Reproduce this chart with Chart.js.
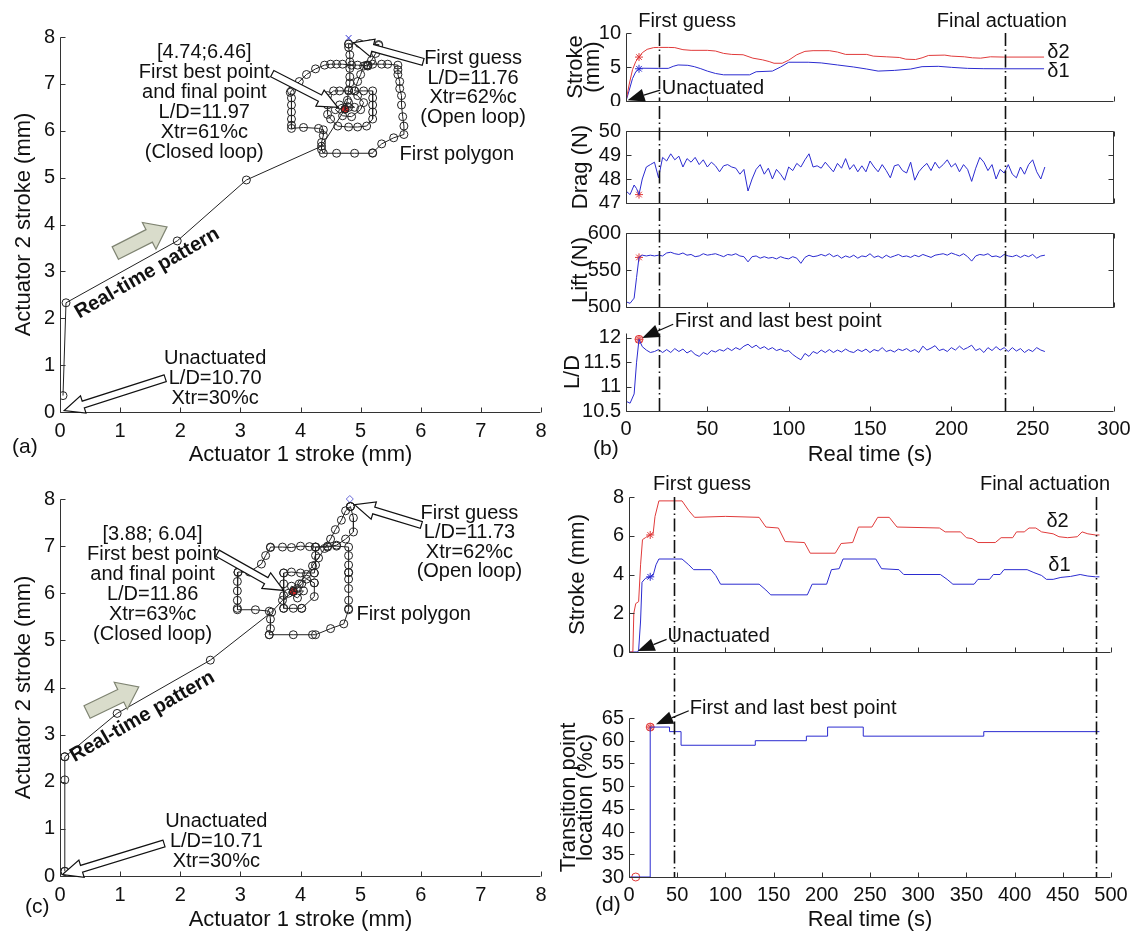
<!DOCTYPE html>
<html>
<head>
<meta charset="utf-8">
<script src="https://cdn.jsdelivr.net/npm/chart.js@4.4.1/dist/chart.umd.min.js"></script>
<style>
  body { margin: 0; background: #fff; }
  #fig { position: relative; width: 1137px; height: 933px; overflow: hidden; background: #fff; }
  canvas { position: absolute; }
</style>
</head>
<body>
<div id="fig"></div>
<script>
// ===== run 1 : actuator path (mm) =====
const pathA = [
  [0.05,0.35],[0.1,2.33],[1.95,3.65],[3.1,4.95],[4.35,5.67],[4.74,6.46],
  [4.78,6.65],[4.8,6.87],[4.82,7.02],[4.82,7.15],[4.82,7.33],[4.82,7.47],[4.82,7.62],[4.8,7.78],[4.8,7.85],[4.8,7.85],
  [4.98,7.86],[5.15,7.85],[5.3,7.84],[5.3,7.82],
  [5.25,7.65],[5.18,7.5],[5.12,7.4],[5.12,7.4],[5.12,7.38],
  [4.95,7.4],[4.85,7.4],[4.7,7.42],[4.6,7.42],[4.5,7.42],[4.4,7.4],
  [4.25,7.32],[4.1,7.2],[3.98,7.05],[3.85,6.85],[3.83,6.82],
  [3.85,6.7],[3.85,6.55],[3.85,6.4],[3.85,6.25],[3.85,6.12],[3.85,6.05],
  [4.05,6.07],[4.3,6.05],[4.38,6.02],
  [4.38,5.9],[4.35,5.75],[4.35,5.6],[4.38,5.52],
  [4.6,5.52],[4.9,5.52],[5.2,5.52],[5.2,5.53],
  [5.35,5.72],[5.55,5.85],[5.72,5.92],
  [5.72,6.1],[5.7,6.3],[5.68,6.55],[5.68,6.75],[5.65,6.9],[5.65,7.05],[5.62,7.2],[5.62,7.3],[5.62,7.4],
  [5.45,7.42],[5.35,7.42],[5.2,7.42],[5.1,7.4],[5.05,7.38],
  [5.0,7.2],[4.95,7.05],[4.9,6.85],[4.9,6.85],
  [5.05,6.85],[5.2,6.85],[5.2,6.7],[5.2,6.55],[5.2,6.4],[5.2,6.25],[5.1,6.1],[4.95,6.08],[4.8,6.08],[4.62,6.1],
  [4.5,6.25],[4.45,6.35],[4.45,6.55],[4.45,6.75],[4.55,6.85],[4.65,6.85],[4.8,6.85],
  [4.95,6.75],[5.05,6.6],[5.0,6.45],[4.85,6.3],[4.7,6.32],[4.58,6.45],[4.65,6.55],[4.8,6.6],[4.9,6.5],[4.8,6.5],[4.74,6.46]
];
const bestA = [4.74, 6.46];
const guessA = [4.8, 7.98];

// ===== run 2 : actuator path (mm) =====
const pathC = [
  [0.08,0.1],[0.08,0.1],[0.08,2.04],[0.08,2.53],[0.08,2.53],[0.95,3.45],[2.5,4.58],[3.52,5.6],[3.7,5.85],[3.88,6.04],
  [3.98,6.2],[4.1,6.4],[4.2,6.58],[4.3,6.75],[4.4,6.95],[4.5,7.15],[4.58,7.35],[4.68,7.55],[4.75,7.75],[4.83,7.84],[4.83,7.84],[4.83,7.84],
  [4.88,7.6],[4.88,7.3],[4.75,7.15],[4.6,7.02],[4.45,6.98],[4.25,6.98],[4.25,6.98],
  [4.15,6.99],[4.0,7.0],[3.85,6.97],[3.7,6.98],[3.5,6.98],[3.5,6.97],
  [3.42,6.8],[3.35,6.62],[3.15,6.45],[2.96,6.45],[2.96,6.44],
  [2.95,6.25],[2.95,6.05],[2.95,5.85],[2.95,5.68],[2.95,5.65],
  [3.25,5.65],[3.48,5.62],
  [3.5,5.45],[3.5,5.25],[3.48,5.12],[3.48,5.12],
  [3.88,5.12],[4.2,5.12],[4.25,5.12],
  [4.5,5.25],[4.72,5.35],[4.8,5.65],[4.8,5.67],
  [4.8,5.85],[4.8,6.1],[4.8,6.3],[4.8,6.44],[4.8,6.44],[4.8,6.6],[4.8,6.8],[4.8,6.98],
  [4.6,7.0],[4.45,7.0],[4.25,6.98],
  [4.25,6.8],[4.25,6.6],[4.23,6.43],[4.23,6.43],
  [4.0,6.43],[3.85,6.45],[3.72,6.43],[3.72,6.43],
  [3.72,6.2],[3.72,5.95],[3.72,5.68],[3.72,5.68],
  [3.88,5.68],[4.02,5.68],[4.02,5.68],
  [4.23,5.93],[4.23,6.22],[4.23,6.22],
  [4.1,6.3],[4.02,6.2],[3.95,6.1],[3.85,6.15],[3.8,6.0],[3.95,5.9],[4.05,6.05],[3.88,6.04]
];
const bestC = [3.88, 6.04];
const guessC = [4.82, 8.0];

// ===== run 1 : time histories [t (s), value] =====
const d2B = [[0,0],[2,2.5],[4,4.6],[6,5.8],[8,6.46],[10,7.1],[13,7.6],[17,7.85],[20,7.88],[26,7.88],[30,7.85],[35,7.55],
  [40,7.45],[50,7.45],[55,7.35],[60,7.0],[65,6.85],[72,6.8],[78,6.3],[84,6.05],[88,5.8],[91,5.55],[96,5.55],[100,6.0],
  [105,6.8],[110,7.3],[115,7.4],[125,7.4],[130,7.2],[135,6.85],[148,6.85],[152,6.6],[160,6.5],[168,6.4],[172,6.15],
  [178,6.1],[182,6.35],[186,6.7],[196,6.75],[200,6.6],[208,6.5],[213,6.35],[218,6.3],[224,6.5],[232,6.46],[257,6.46]];
const d1B = [[0,0],[2,1.6],[4,3.3],[6,4.3],[8,4.74],[10,4.82],[20,4.8],[26,4.8],[29,5.1],[32,5.3],[38,5.25],[42,5.05],
  [46,4.75],[50,4.4],[55,4.05],[60,3.85],[76,3.85],[80,4.3],[90,4.4],[95,5.0],[100,5.7],[112,5.7],[120,5.6],[130,5.3],
  [140,5.0],[148,4.7],[155,4.4],[165,4.5],[175,4.7],[182,5.05],[192,5.1],[200,4.95],[210,4.8],[220,4.75],[232,4.74],[257,4.74]];
const dragB = [[0,47.5],[2.5,47.35],[5,47.75],[6.5,47.6],[8,47.35],[10,48.0],[12.5,48.5],[15,48.6],[17.5,48.7],[20,48.05],
  [22.5,48.9],[25,48.75],[27.5,49.05],[30,48.8],[32.5,48.95],[35,48.5],[37.5,48.85],[40,48.7],[42.5,48.9],[45,48.6],
  [47.5,48.8],[50,48.5],[52.5,48.7],[55,48.55],[57.5,48.3],[60,48.55],[62.5,48.6],[65,48.5],[67.5,48.45],[70,48.2],
  [72.5,48.4],[75,47.5],[77.5,48.0],[80,48.4],[82.5,48.6],[85,48.2],[87.5,48.45],[90,48.0],[92.5,48.4],[95,48.2],
  [97.5,47.95],[100,48.5],[102.5,48.35],[105,48.65],[107.5,48.5],[110,48.8],[112.5,49.05],[115,48.5],[117.5,48.55],
  [120,48.45],[122.5,48.7],[125,48.5],[127.5,48.3],[130,48.65],[132.5,48.45],[135,48.85],[137.5,48.4],[140,48.6],
  [142.5,48.3],[145,48.55],[147.5,48.3],[150,48.75],[152.5,48.5],[155,48.3],[157.5,48.6],[160,48.35],[162.5,48.05],
  [165,48.55],[167.5,48.6],[170,48.35],[172.5,48.25],[175,48.7],[177.5,47.95],[180,48.3],[182.5,48.5],[185,48.65],
  [187.5,48.35],[190,48.7],[192.5,48.45],[195,48.6],[197.5,48.8],[200,48.5],[202.5,48.65],[205,48.3],[207.5,48.6],
  [210,48.4],[212.5,47.9],[215,48.45],[217.5,48.9],[220,48.7],[222.5,48.35],[225,48.6],[227.5,48.0],[230,48.4],
  [232.5,48.25],[235,48.6],[237.5,48.2],[240,48.05],[242.5,48.5],[245,48.2],[247.5,48.6],[250,48.8],[252.5,48.3],
  [255,48.0],[257.5,48.5]];
const liftB = [[0,507],[2.5,505],[5,512],[6.5,540],[8,567],[10,570],[12.5,569],[15,570],[17.5,569],[20,570],[22.5,569],
  [25,573],[27.5,574],[30,572],[32.5,571],[35,573],[37.5,570],[40,571],[42.5,568],[45,569],[47.5,572],[50,570],
  [52.5,571],[55,572],[57.5,570],[60,568],[62.5,571],[65,570],[67.5,572],[70,569],[72.5,568],[75,561],[77.5,568],
  [80,569],[82.5,566],[85,568],[87.5,566],[90,567],[92.5,565],[95,568],[97.5,566],[100,565],[102.5,568],[105,566],
  [107.5,559],[110,567],[112.5,570],[115,568],[117.5,569],[120,571],[122.5,569],[125,572],[127.5,568],[130,570],
  [132.5,566],[135,569],[137.5,567],[140,570],[142.5,566],[145,569],[147.5,568],[150,572],[152.5,567],[155,569],
  [157.5,566],[160,570],[162.5,567],[165,569],[167.5,571],[170,568],[172.5,569],[175,567],[177.5,570],[180,568],
  [182.5,571],[185,569],[187.5,567],[190,570],[192.5,571],[195,572],[197.5,570],[200,573],[202.5,571],[205,569],
  [207.5,572],[210,568],[212.5,562],[215,569],[217.5,571],[220,570],[222.5,572],[225,568],[227.5,569],[230,567],
  [232.5,571],[235,569],[237.5,568],[240,570],[242.5,567],[245,570],[247.5,568],[250,571],[252.5,566],[255,569],[257.5,570]];
const ldB = [[0,10.7],[2.5,10.66],[5,10.85],[6.5,11.5],[8,11.97],[10,11.82],[12.5,11.75],[15,11.7],[17.5,11.72],[20,11.76],
  [22.5,11.7],[25,11.76],[27.5,11.7],[30,11.78],[32.5,11.72],[35,11.77],[37.5,11.69],[40,11.74],[42.5,11.66],[45,11.62],
  [47.5,11.7],[50,11.66],[52.5,11.74],[55,11.71],[57.5,11.76],[60,11.73],[62.5,11.79],[65,11.74],[67.5,11.8],[70,11.76],
  [72.5,11.83],[75,11.87],[77.5,11.8],[80,11.85],[82.5,11.78],[85,11.82],[87.5,11.76],[90,11.8],[92.5,11.74],[95,11.77],
  [97.5,11.72],[100,11.74],[102.5,11.66],[105,11.6],[107.5,11.55],[110,11.68],[112.5,11.62],[115,11.72],[117.5,11.68],
  [120,11.75],[122.5,11.7],[125,11.76],[127.5,11.7],[130,11.75],[132.5,11.71],[135,11.77],[137.5,11.72],[140,11.7],
  [142.5,11.76],[145,11.72],[147.5,11.77],[150,11.7],[152.5,11.76],[155,11.73],[157.5,11.8],[160,11.72],[162.5,11.75],
  [165,11.71],[167.5,11.77],[170,11.74],[172.5,11.78],[175,11.72],[177.5,11.76],[180,11.7],[182.5,11.83],[185,11.75],
  [187.5,11.79],[190,11.84],[192.5,11.74],[195,11.77],[197.5,11.72],[200,11.8],[202.5,11.75],[205,11.83],[207.5,11.76],
  [210,11.8],[212.5,11.85],[215,11.74],[217.5,11.78],[220,11.7],[222.5,11.8],[225,11.74],[227.5,11.82],[230,11.75],
  [232.5,11.8],[235,11.72],[237.5,11.8],[240,11.73],[242.5,11.78],[245,11.7],[247.5,11.76],[250,11.72],[252.5,11.8],
  [255,11.75],[257.5,11.72]];
const bestTimeB = 8;
const bestDragB = 47.35;
const bestLiftB = 567;
const bestLdB = 11.97;
const marksB = [20, 233];          // first guess, final actuation

// ===== run 2 : time histories =====
const d2D = [[0,0],[4,0],[5,2.0],[7,2.5],[10,2.6],[12,4.5],[14,5.8],[17,5.9],[20,6.0],[22,6.04],[25,6.1],[27,7.0],[31,7.8],
  [55,7.8],[62,7.3],[68,6.95],[100,7.0],[135,6.95],[142,6.45],[155,6.4],[162,5.7],[182,5.65],[188,5.1],[214,5.1],[220,5.6],
  [232,5.65],[238,6.45],[252,6.45],[258,6.95],[270,6.95],[278,6.45],[322,6.4],[328,6.2],[344,6.2],[350,5.9],[356,5.85],
  [362,5.65],[380,5.65],[386,5.9],[398,5.9],[402,6.2],[410,6.2],[415,6.4],[422,6.4],[428,6.2],[440,6.1],[446,5.95],
  [455,5.9],[465,5.95],[470,6.2],[476,6.1],[484,6.04],[488,6.04]];
const d1D = [[0,0],[9,0],[10,0.1],[12,1.6],[13.5,3.6],[17,3.8],[22,3.88],[25,3.95],[28,4.5],[31,4.8],[55,4.8],[62,4.5],
  [67,4.25],[85,4.25],[90,3.95],[95,3.5],[135,3.5],[142,3.2],[147,2.95],[185,2.95],[190,3.5],[205,3.5],[210,4.25],
  [218,4.3],[222,4.8],[256,4.8],[262,4.3],[280,4.25],[285,4.0],[323,4.0],[330,3.75],[336,3.5],[358,3.5],[362,3.75],
  [374,3.75],[378,4.0],[385,4.0],[389,4.25],[413,4.25],[420,4.1],[428,3.95],[433,3.75],[440,3.75],[448,3.85],
  [458,3.9],[468,4.0],[476,3.92],[484,3.88],[488,3.88]];
const xtrD = [[0,30],[22,63],[42,62],[54,59],[131,60],[184,61],[206,63],[243,61],[368,62],[488,62]];
const bestTimeD = 22;
const bestXtrD = 63;
const baseXtr = [7, 30];
const marksD = [47, 484];

// ===== tick labels =====
const ticksStroke8 = [0, 1, 2, 3, 4, 5, 6, 7, 8];
const ticksTimeB = [0, 50, 100, 150, 200, 250, 300];
const ticksStrokeB = [0, 5, 10];
const ticksDrag = [47, 48, 49, 50];
const ticksLift = [500, 550, 600];
const ticksLd = [10.5, 11, 11.5, 12];
const ticksTimeD = [0, 50, 100, 150, 200, 250, 300, 350, 400, 450, 500];
const ticksStrokeD = [0, 2, 4, 6, 8];
const ticksXtr = [30, 35, 40, 45, 50, 55, 60, 65];

// ===== drawing helpers =====
const FONT = '"Liberation Sans", Arial, sans-serif';
const INK = '#111';
const BLUE = '#2b2bd0';
const RED = '#e03a3a';
Chart.defaults.font.family = FONT;
Chart.defaults.color = INK;

const fig = document.getElementById('fig');
const extras = {};

function label(ctx, str, x, y, o = {}) {
  ctx.save();
  ctx.font = (o.bold ? 'bold ' : '') + (o.size || 20) + 'px ' + FONT;
  ctx.fillStyle = INK;
  ctx.textAlign = o.align || 'center';
  ctx.textBaseline = 'middle';
  ctx.translate(x, y);
  if (o.rot) ctx.rotate(o.rot);
  ctx.fillText(str, 0, 0);
  ctx.restore();
}

function stack(ctx, arr, p, step) {
  arr.forEach((s, i) => label(ctx, s, p[0], p[1] + i * step));
}

// block arrow (hollow or filled) from tail to tip
function blockArrow(ctx, from, to, shaft, head, len, fill, stroke) {
  const dx = to[0] - from[0], dy = to[1] - from[1], L = Math.hypot(dx, dy);
  const ux = dx / L, uy = dy / L, nx = -uy, ny = ux;
  const bx = to[0] - ux * len, by = to[1] - uy * len;
  const s = shaft / 2, h = head / 2;
  ctx.save();
  ctx.beginPath();
  ctx.moveTo(from[0] + nx * s, from[1] + ny * s);
  ctx.lineTo(bx + nx * s, by + ny * s);
  ctx.lineTo(bx + nx * h, by + ny * h);
  ctx.lineTo(to[0], to[1]);
  ctx.lineTo(bx - nx * h, by - ny * h);
  ctx.lineTo(bx - nx * s, by - ny * s);
  ctx.lineTo(from[0] - nx * s, from[1] - ny * s);
  ctx.closePath();
  ctx.fillStyle = fill;
  ctx.fill();
  ctx.lineWidth = 1.2;
  ctx.strokeStyle = stroke;
  ctx.stroke();
  ctx.restore();
}
const hollow = (ctx, a, b) => blockArrow(ctx, a, b, 7, 18, 20, '#fff', INK);

// thin leader with a solid head
function leader(ctx, from, to) {
  const dx = to[0] - from[0], dy = to[1] - from[1], L = Math.hypot(dx, dy);
  const ux = dx / L, uy = dy / L, nx = -uy, ny = ux;
  const len = 17, h = 6.5;
  const bx = to[0] - ux * len, by = to[1] - uy * len;
  ctx.save();
  ctx.strokeStyle = INK;
  ctx.lineWidth = 1.3;
  ctx.beginPath(); ctx.moveTo(from[0], from[1]); ctx.lineTo(bx, by); ctx.stroke();
  ctx.beginPath();
  ctx.moveTo(to[0], to[1]);
  ctx.lineTo(bx + nx * h, by + ny * h);
  ctx.lineTo(bx - nx * h, by - ny * h);
  ctx.closePath();
  ctx.fillStyle = INK;
  ctx.fill();
  ctx.restore();
}

function dashDot(ctx, x, y0, y1) {
  ctx.save();
  ctx.strokeStyle = INK;
  ctx.lineWidth = 1.6;
  ctx.setLineDash([13, 3.5, 1.5, 3.5]);
  ctx.beginPath(); ctx.moveTo(x, y0); ctx.lineTo(x, y1); ctx.stroke();
  ctx.restore();
}

// axes lines, inward ticks, marker lines and notes
const framePlugin = {
  id: 'frame',
  afterDatasetsDraw(chart) {
    const e = extras[chart.canvas.id] || {};
    const { ctx, chartArea: a, scales: { x, y } } = chart;
    const L = Math.round(a.left) + 0.5, B = Math.round(a.bottom) + 0.5;
    const T = Math.round(a.top) + 0.5, R = Math.round(a.right) - 0.5;
    ctx.save();
    ctx.strokeStyle = '#333';
    ctx.lineWidth = 1;
    ctx.beginPath();
    ctx.moveTo(L, T); ctx.lineTo(L, B); ctx.lineTo(R, B);
    if (e.box) { ctx.moveTo(L, T); ctx.lineTo(R, T); ctx.lineTo(R, B); }
    const tl = 5;
    x.ticks.forEach(t => {
      const p = Math.round(x.getPixelForValue(t.value)) + 0.5;
      ctx.moveTo(p, B); ctx.lineTo(p, B - tl);
      if (e.box) { ctx.moveTo(p, T); ctx.lineTo(p, T + tl); }
    });
    y.ticks.forEach(t => {
      const p = Math.round(y.getPixelForValue(t.value)) + 0.5;
      ctx.moveTo(L, p); ctx.lineTo(L + tl, p);
      if (e.box) { ctx.moveTo(R, p); ctx.lineTo(R - tl, p); }
    });
    ctx.stroke();
    ctx.restore();
    (e.marks || []).forEach(t => {
      dashDot(ctx, Math.round(x.getPixelForValue(t)) + 0.5, e.markTop === undefined ? a.top : e.markTop, a.bottom);
    });
    if (e.tag) label(ctx, e.tag[0], e.tag[1], e.tag[2], { align: 'left', size: 21 });
    if (e.draw) {
      const P = (vx, vy) => [x.getPixelForValue(vx), y.getPixelForValue(vy)];
      e.draw(ctx, P, a);
    }
  }
};
Chart.register(framePlugin);

function axis(min, max, ticks, o) {
  return {
    type: 'linear', min, max,
    afterBuildTicks: s => { s.ticks = ticks.map(v => ({ value: v })); },
    grid: { display: false, drawTicks: false },
    border: { display: false },
    ticks: {
      display: o.labels !== false, autoSkip: false, maxRotation: 0, padding: o.pad || 6,
      font: { size: 20 }, color: INK, callback: v => String(v)
    },
    title: {
      display: !!o.title, text: o.title || '', color: INK,
      font: { size: 22, lineHeight: o.lh || 1.2 },
      padding: { top: o.tpad || 0, bottom: 0 }
    },
    afterFit: s => {
      if (s.isHorizontal()) s.height = o.size; else s.width = o.size;
      s.paddingLeft = s.paddingRight = s.paddingTop = s.paddingBottom = 0;
    }
  };
}

function plot(id, box, area, datasets, xo, yo, extra) {
  const [cx, cy, cw, ch] = box;
  const cv = document.createElement('canvas');
  cv.id = id;
  cv.width = cw; cv.height = ch;
  cv.style.left = cx + 'px'; cv.style.top = cy + 'px';
  cv.style.width = cw + 'px'; cv.style.height = ch + 'px';
  fig.appendChild(cv);
  extras[id] = extra || {};
  xo.size = cy + ch - area[3];
  yo.size = area[0] - cx;
  return new Chart(cv, {
    type: 'scatter',
    data: { datasets },
    options: {
      responsive: false, animation: false, devicePixelRatio: 1, events: [],
      layout: { padding: { left: 0, top: area[1] - cy, right: cx + cw - area[2], bottom: 0 } },
      plugins: { legend: { display: false }, tooltip: { enabled: false } },
      scales: {
        x: axis(xo.min, xo.max, xo.ticks, xo),
        y: axis(yo.min, yo.max, yo.ticks, yo)
      }
    }
  });
}

const pts = arr => arr.map(p => ({ x: p[0], y: p[1] }));
const line = (arr, color) => ({
  data: pts(arr), showLine: true, borderColor: color, borderWidth: 1, pointRadius: 0, tension: 0
});
const pathSet = arr => ({
  data: pts(arr), showLine: true, borderColor: '#222', borderWidth: 1, tension: 0,
  pointStyle: 'circle', pointRadius: 4, pointBorderColor: '#222', pointBorderWidth: 1,
  pointBackgroundColor: 'rgba(0,0,0,0)'
});
const marker = (arr, style, color, r, fill) => ({
  data: pts(arr), showLine: false, pointStyle: style, pointRadius: r,
  pointBorderColor: color, pointBorderWidth: 1, pointBackgroundColor: fill || 'rgba(0,0,0,0)', clip: false
});
const deg = d => d * Math.PI / 180;

// ---------- (a) ----------
plot('pa', [0, 0, 565, 468], [60, 37, 541, 412], [
  pathSet(pathA),
  marker([bestA], 'circle', '#a01818', 3.5, '#d42a2a'),
  marker([guessA], 'crossRot', BLUE, 4)
], { min: 0, max: 8, ticks: ticksStroke8, title: 'Actuator 1 stroke (mm)', pad: 7 },
   { min: 0, max: 8, ticks: ticksStroke8, title: 'Actuator 2 stroke (mm)', tpad: 11, pad: 5 },
{
  tag: ['(a)', 12, 447],
  draw(ctx, P) {
    stack(ctx, ['[' + bestA.join(';') + ']', 'First best point', 'and final point', 'L/D=' + bestLdB.toFixed(2),
      'Xtr=61%c', '(Closed loop)'], P(2.4, 7.68), 20);
    stack(ctx, ['First guess', 'L/D=11.76', 'Xtr=62%c', '(Open loop)'], P(6.87, 7.54), 19.5);
    label(ctx, 'First polygon', ...P(6.6, 5.5));
    stack(ctx, ['Unactuated', 'L/D=10.70', 'Xtr=30%c'], P(2.58, 1.15), 20);
    hollow(ctx, P(1.75, 0.72), P(0.07, 0.03));
    hollow(ctx, P(6.04, 7.47), P(4.88, 7.88));
    hollow(ctx, P(3.53, 7.22), P(4.62, 6.5));
    blockArrow(ctx, P(0.92, 3.39), P(1.78, 3.95), 14, 30, 20, '#d9dccb', '#7f8472');
    label(ctx, 'Real-time pattern', ...P(1.45, 2.96), { bold: true, rot: deg(-30) });
  }
});

// ---------- (c) ----------
plot('pc', [0, 468, 565, 465], [60, 499, 541, 876], [
  pathSet(pathC),
  marker([bestC], 'circle', '#a01818', 3.5, '#d42a2a'),
  marker([guessC], 'rectRot', '#6a6ad8', 3.5)
], { min: 0, max: 8, ticks: ticksStroke8, title: 'Actuator 1 stroke (mm)', pad: 7 },
   { min: 0, max: 8, ticks: ticksStroke8, title: 'Actuator 2 stroke (mm)', tpad: 11, pad: 5 },
{
  tag: ['(c)', 25, 439],
  draw(ctx, P) {
    stack(ctx, ['[' + bestC.join('; ') + ']', 'First best point', 'and final point', 'L/D=11.86',
      'Xtr=' + bestXtrD + '%c', '(Closed loop)'], P(1.54, 7.24), 20);
    stack(ctx, ['First guess', 'L/D=11.73', 'Xtr=62%c', '(Open loop)'], P(6.81, 7.7), 19.5);
    label(ctx, 'First polygon', ...P(4.93, 5.56), { align: 'left' });
    stack(ctx, ['Unactuated', 'L/D=10.71', 'Xtr=' + baseXtr[1] + '%c'], P(2.6, 1.15), 20);
    hollow(ctx, P(1.73, 0.69), P(0.04, 0.03));
    hollow(ctx, P(6.01, 7.45), P(4.9, 7.88));
    hollow(ctx, P(2.62, 6.85), P(3.72, 6.06));
    blockArrow(ctx, P(0.45, 3.48), P(1.31, 4.01), 14, 30, 20, '#d9dccb', '#7f8472');
    label(ctx, 'Real-time pattern', ...P(1.37, 3.38), { bold: true, rot: deg(-30) });
  }
});

// ---------- (b) stacked time histories ----------
const xB = o => Object.assign({ min: 0, max: 300, ticks: ticksTimeB, labels: false }, o);
plot('pb1', [560, 0, 577, 106], [626, 33, 1114, 104], [
  line(d2B, RED), line(d1B, BLUE),
  marker([[bestTimeB, bestA[1]]], 'star', RED, 4),
  marker([[bestTimeB, bestA[0]]], 'star', BLUE, 4)
], xB({}), { min: 0, max: 10, ticks: ticksStrokeB, title: ['Stroke', '(mm)'], lh: 0.8, tpad: 7, pad: 5 },
{
  marks: marksB,
  draw(ctx, P, a) {
    label(ctx, 'First guess', P(7.5, 0)[0], a.top - 12, { align: 'left' });
    label(ctx, 'Final actuation', P(271, 0)[0], a.top - 12, { align: 'right' });
    label(ctx, '\u03b42', ...P(259, 7.2), { align: 'left' });
    label(ctx, '\u03b41', ...P(259, 4.3), { align: 'left' });
    label(ctx, 'Unactuated', ...P(22, 1.9), { align: 'left' });
    leader(ctx, P(21, 1.6), P(1, 0.1));
  }
});
plot('pb2', [560, 106, 577, 102], [626, 131, 1114, 206], [
  line(dragB, BLUE),
  marker([[bestTimeB, bestDragB]], 'star', RED, 4)
], xB({}), { min: 47, max: 50, ticks: ticksDrag, title: 'Drag (N)', tpad: 8, pad: 5 },
{ box: true, marks: marksB, markTop: 0 });
plot('pb3', [560, 208, 577, 104], [626, 233, 1114, 310], [
  line(liftB, BLUE),
  marker([[bestTimeB, bestLiftB]], 'star', RED, 4)
], xB({}), { min: 500, max: 600, ticks: ticksLift, title: 'Lift (N)', tpad: 8, pad: 5 },
{ box: true, marks: marksB, markTop: 0 });
plot('pb4', [560, 312, 577, 156], [626, 333, 1114, 411], [
  line(ldB, BLUE),
  marker([[bestTimeB, bestLdB]], 'circle', RED, 4, 'rgba(230,90,90,0.35)'),
  marker([[bestTimeB, bestLdB]], 'star', RED, 4)
], xB({ labels: true, title: 'Real time (s)', pad: 6 }),
   { min: 10.5, max: 12.1, ticks: ticksLd, title: 'L/D', tpad: 0, pad: 5 },
{
  marks: marksB, markTop: 0, tag: ['(b)', 33, 137],
  draw(ctx, P) {
    label(ctx, 'First and last best point', ...P(30, 12.33), { align: 'left' });
    leader(ctx, P(29, 12.28), P(10, 12.0));
  }
});

// ---------- (d) ----------
const xD = o => Object.assign({ min: 0, max: 500, ticks: ticksTimeD, labels: false }, o);
plot('pd1', [560, 468, 577, 189], [629, 497, 1111, 655], [
  line(d2D, RED), line(d1D, BLUE),
  marker([[bestTimeD, bestC[1]]], 'star', RED, 4),
  marker([[bestTimeD, bestC[0]]], 'star', BLUE, 4)
], xD({}), { min: 0, max: 8, ticks: ticksStrokeD, title: 'Stroke (mm)', tpad: 5, pad: 5 },
{
  marks: marksD,
  draw(ctx, P, a) {
    label(ctx, 'First guess', P(25, 0)[0], a.top - 13, { align: 'left' });
    label(ctx, 'Final actuation', P(499, 0)[0], a.top - 13, { align: 'right' });
    label(ctx, '\u03b42', ...P(433, 6.75), { align: 'left' });
    label(ctx, '\u03b41', ...P(435, 4.45), { align: 'left' });
    label(ctx, 'Unactuated', ...P(40, 0.8), { align: 'left' });
    leader(ctx, P(39, 0.65), P(9, 0.05));
  }
});
plot('pd2', [560, 657, 577, 276], [629, 718, 1111, 877], [
  Object.assign(line(xtrD, BLUE), { stepped: true }),
  marker([baseXtr], 'circle', RED, 4),
  marker([[bestTimeD, bestXtrD]], 'circle', RED, 4, 'rgba(230,90,90,0.35)'),
  marker([[bestTimeD, bestXtrD]], 'star', RED, 4)
], xD({ labels: true, title: 'Real time (s)', pad: 6 }),
   { min: 30, max: 65, ticks: ticksXtr, title: ['Transition point', 'location (%c)'], lh: 0.8, tpad: 0, pad: 5 },
{
  marks: marksD, markTop: 0, tag: ['(d)', 35, 248],
  draw(ctx, P) {
    label(ctx, 'First and last best point', ...P(63, 67), { align: 'left' });
    leader(ctx, P(62, 66.6), P(28, 63.6));
  }
});
</script>
</body>
</html>
